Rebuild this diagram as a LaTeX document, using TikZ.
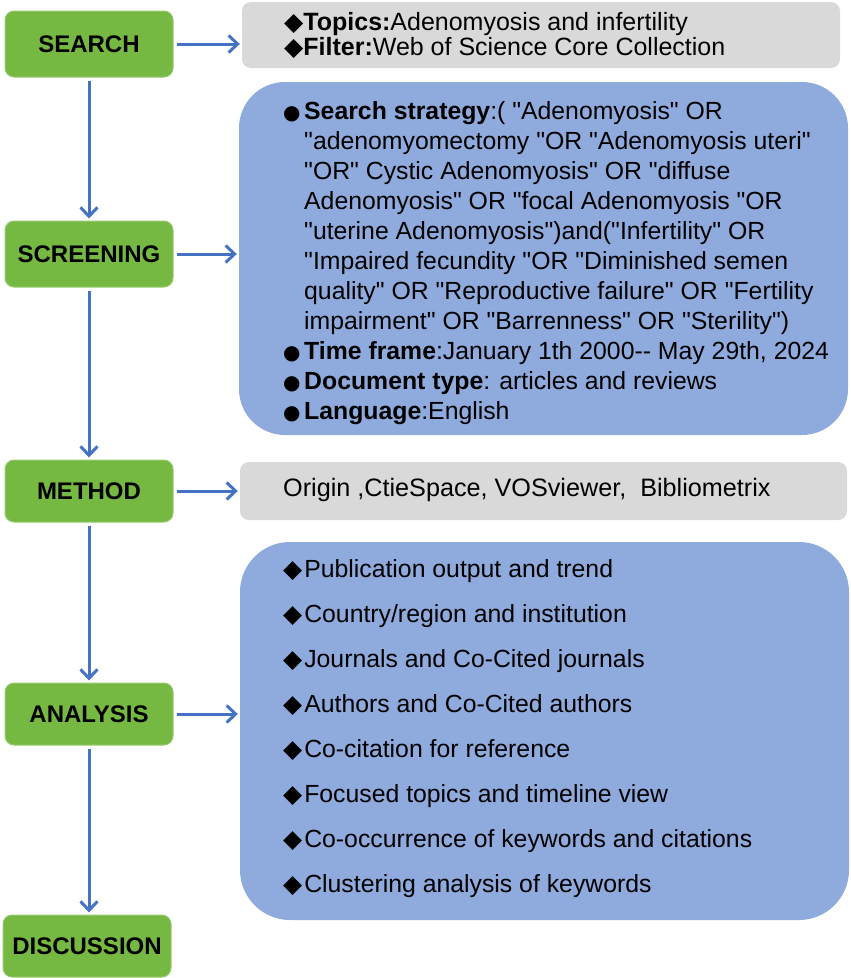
\documentclass[tikz,border=0pt]{standalone}
\usepackage{fontspec}
\setmainfont{Liberation Sans}
\newfontfamily\diagfont{Liberation Sans}
\newfontfamily\symfont{DejaVu Sans}
\usetikzlibrary{arrows.meta,positioning}

\definecolor{stepgreen}{HTML}{76B942}
\definecolor{infoblue}{HTML}{8FAADC}
\definecolor{infogray}{HTML}{D9D9D9}
\definecolor{flowblue}{HTML}{4472C4}

\newcommand{\dia}{{\symfont\char"25C6}}
\newcommand{\dotb}{\makebox[21pt][l]{\symfont\fontsize{20}{20}\selectfont\char"25CF}}

\begin{document}
\begin{tikzpicture}[
    x=1pt, y=-1pt,
    stepbox/.style={rectangle, draw=stepgreen!75!white, line width=1pt, fill=stepgreen, rounded corners=9pt, minimum width=168pt, minimum height=66pt, inner sep=0pt, font=\diagfont\fontsize{24}{28}\selectfont\bfseries},
    graybox/.style={rectangle, fill=infogray, rounded corners=9pt, inner sep=0pt},
    bluebox/.style={rectangle, fill=infoblue, rounded corners=46pt, inner sep=0pt},
    infotext/.style={anchor=base west, inner sep=0pt, align=left, font=\diagfont\fontsize{24.8}{30}\selectfont},
    flow/.style={-{Straight Barb[length=9pt,width=17pt,line width=3pt]}, draw=flowblue, line width=3pt, shorten <=3pt, shorten >=2pt}
]
\useasboundingbox (0,0) rectangle (851,978);

% Steps on the left
\node[stepbox] (search) at (89,44) {SEARCH};
\node[stepbox] (screening) at (89,254) {SCREENING};
\node[stepbox, minimum height=62pt] (method) at (89,491) {METHOD};
\node[stepbox, minimum height=62pt] (analysis) at (89,714) {ANALYSIS};
\node[stepbox, minimum height=62pt] (discussion) at (87,946) {DISCUSSION};

% Boxes on the right
\node[graybox, minimum width=598pt, minimum height=66pt] (topics) at (541,35) {};
\node[bluebox, minimum width=609pt, minimum height=353pt] (strategy) at (543.5,258.5) {};
\node[graybox, minimum width=607pt, minimum height=58pt] (tools) at (543.5,491) {};
\node[bluebox, minimum width=609pt, minimum height=378pt, rounded corners=50pt] (contents) at (544.5,731) {};

% Texts of the boxes
\node[infotext, font=\diagfont\fontsize{25}{25}\selectfont] (topicstext) at (284,30) {\begin{tabular}[t]{@{}l@{}}
\dia\textbf{Topics:}Adenomyosis and infertility\\
\dia\textbf{Filter:}Web of Science Core Collection
\end{tabular}};

\node[infotext] (strategytext) at (283,119) {\begin{tabular}[t]{@{}l@{}l@{}}
\dotb & \textbf{Search strategy}:( "Adenomyosis" OR\\
 & "adenomyomectomy "OR "Adenomyosis uteri"\\
 & "OR" Cystic Adenomyosis" OR "diffuse\\
 & Adenomyosis" OR "focal Adenomyosis "OR\\
 & "uterine Adenomyosis")and("Infertility" OR\\
 & "Impaired fecundity "OR "Diminished semen\\
 & quality" OR "Reproductive failure" OR "Fertility\\
 & impairment" OR "Barrenness" OR "Sterility")\\
\dotb & \textbf{Time frame}:January 1th 2000-{}- May 29th, 2024\\
\dotb & \textbf{Document type}: articles and reviews\\
\dotb & \textbf{Language}:English
\end{tabular}};

\node[infotext, anchor=west, font=\diagfont\fontsize{25.2}{30}\selectfont] (toolstext) at (283,490) {Origin ,CtieSpace, VOSviewer,\ \ Bibliometrix};

\node[infotext, font=\diagfont\fontsize{24.8}{45}\selectfont] (contentstext) at (283,577) {\begin{tabular}[t]{@{}l@{\hspace{2pt}}l@{}}
\dia & Publication output and trend\\
\dia & Country/region and institution\\
\dia & Journals and Co-Cited journals\\
\dia & Authors and Co-Cited authors\\
\dia & Co-citation for reference\\
\dia & Focused topics and timeline view\\
\dia & Co-occurrence of keywords and citations\\
\dia & Clustering analysis of keywords
\end{tabular}};

% Arrows down
\draw[flow] (search.south) -- (screening.north);
\draw[flow] (screening.south) -- (method.north);
\draw[flow] (method.south) -- (analysis.north);
\draw[flow] (analysis.south) -- (analysis.south |- discussion.north);

% Arrows to the right
\draw[flow] (search.east) -- (search.east -| topics.west);
\draw[flow] (screening.east) -- (screening.east -| strategy.west);
\draw[flow] (method.east) -- (method.east -| tools.west);
\draw[flow] (analysis.east) -- (analysis.east -| contents.west);

\end{tikzpicture}
\end{document}
